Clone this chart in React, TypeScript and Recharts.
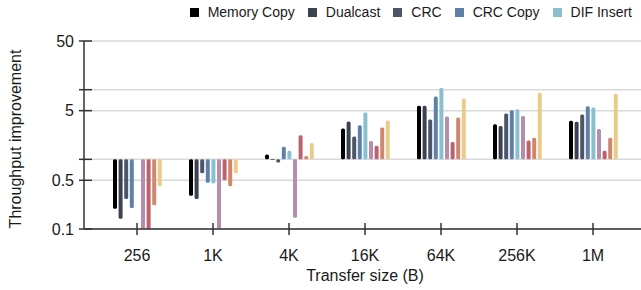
import React from 'react';
import { BarChart, Bar, XAxis, YAxis, CartesianGrid } from 'recharts';

const sizes = ['256', '1K', '4K', '16K', '64K', '256K', '1M'];

// throughput improvement per transfer size (1 = no change)
const memoryCopy = [0.195, 0.3, 1.17, 2.77, 5.86, 3.19, 3.57];
const dualcast = [0.14, 0.27, 0.98, 3.49, 5.86, 3.0, 3.46];
const crc = [0.27, 0.63, 0.9, 2.12, 3.73, 4.54, 4.39];
const crcCopy = [0.2, 0.46, 1.52, 3.09, 8.0, 5.08, 5.8];
const difInsert = [null, 0.45, 1.33, 4.71, 10.6, 5.25, 5.56];
const difStrip = [0.1, 0.1, 0.145, 1.84, 4.12, 4.2, 2.73];
const difUpdate = [0.1, 0.5, 2.22, 1.57, 1.78, 1.86, 1.33];
const difCheck = [0.22, 0.41, 1.12, 2.86, 3.98, 2.05, 2.05];
const memoryFill = [0.41, 0.63, 1.72, 3.61, 7.5, 9.0, 8.73];

const seriesNames = ['Memory Copy', 'Dualcast', 'CRC', 'CRC Copy', 'DIF Insert', 'DIF Strip', 'DIF Update', 'DIF Check', 'Memory Fill'];
const seriesColors = ['#000000', '#3b4252', '#4c566a', '#5e81ac', '#88c0d0', '#b48ead', '#bf616a', '#d08770', '#ebcb8b'];
const legendCount = 5;

const yTicks = [0.1, 0.5, 1, 5, 10, 50];
const yTickLabels = ['0.1', '0.5', '', '5', '', '50'];

const allSeries = [memoryCopy, dualcast, crc, crcCopy, difInsert, difStrip, difUpdate, difCheck, memoryFill];

// bars hang off the 1x baseline, so each value becomes a [low, high] range
const data = sizes.map((size, i) => {
  const row: Record<string, any> = { size };
  allSeries.forEach((vals, k) => {
    const v = vals[i];
    row[`s${k}`] = v == null ? null : [Math.min(1, v), Math.max(1, v)];
  });
  return row;
});

const font = '"Liberation Sans", Arial, sans-serif';
const axisColor = '#333';

const XTick = (props: any) => {
  const { x, y, payload } = props;
  return (
    <g>
      <line x1={x} x2={x} y1={y - 6} y2={y + 6} stroke={axisColor} strokeWidth={1.5} />
      <text x={x} y={y + 26} textAnchor="middle" dominantBaseline="central" fontSize={16} fontFamily={font} fill="#1a1a1a">
        {payload.value}
      </text>
    </g>
  );
};

const YTick = (props: any) => {
  const { x, y, payload } = props;
  const idx = yTicks.indexOf(payload.value);
  const label = idx >= 0 ? yTickLabels[idx] : '';
  return (
    <g>
      <line x1={x - 5} x2={x + 8} y1={y} y2={y} stroke={axisColor} strokeWidth={1.5} />
      {label && (
        <text x={x - 10} y={y} textAnchor="end" dominantBaseline="central" fontSize={16} fontFamily={font} fill="#1a1a1a">
          {label}
        </text>
      )}
    </g>
  );
};

const App: React.FC = () => {
  return (
    <div style={{ position: 'absolute', left: 0, top: 0, width: 641, height: 290, fontFamily: font, color: '#1a1a1a' }}>
      <div style={{ position: 'absolute', right: 9, top: 4, display: 'flex', alignItems: 'center', fontSize: 14, whiteSpace: 'nowrap' }}>
        {seriesNames.slice(0, legendCount).map((name, i) => (
          <div key={name} style={{ display: 'flex', alignItems: 'center', marginLeft: i === 0 ? 0 : 13 }}>
            <span style={{ width: 9, height: 9, background: seriesColors[i], marginRight: 9, display: 'inline-block' }} />
            <span>{name}</span>
          </div>
        ))}
      </div>

      <div style={{ position: 'absolute', left: 16, top: 139, transform: 'translate(-50%, -50%) rotate(-90deg)', fontSize: 16, whiteSpace: 'nowrap' }}>
        Throughput improvement
      </div>
      <div style={{ position: 'absolute', left: 365, top: 276, transform: 'translate(-50%, -50%)', fontSize: 16, whiteSpace: 'nowrap' }}>
        Transfer size (B)
      </div>

      <BarChart width={641} height={290} data={data} margin={{ top: 41, right: 0, bottom: 0, left: 0 }} barGap={1.6}>
        <CartesianGrid horizontal vertical={false} stroke="#d9d9d9" strokeWidth={1.5} />
        <XAxis
          dataKey="size"
          height={61}
          padding={{ left: 15, right: 10 }}
          axisLine={{ stroke: axisColor, strokeWidth: 1.5 }}
          tickLine={false}
          tickSize={0}
          tickMargin={0}
          interval={0}
          tick={<XTick />}
        />
        <YAxis
          type="number"
          scale="log"
          domain={[0.1, 50]}
          allowDataOverflow
          ticks={yTicks}
          interval={0}
          width={84}
          axisLine={{ stroke: axisColor, strokeWidth: 1.5 }}
          tickLine={false}
          tickSize={0}
          tickMargin={0}
          tick={<YTick />}
        />
        {seriesNames.map((name, k) => (
          <Bar
            key={name}
            name={name}
            dataKey={`s${k}`}
            fill={seriesColors[k]}
            barSize={4}
            radius={1.5}
            isAnimationActive={false}
          />
        ))}
      </BarChart>
    </div>
  );
};

export default App;
